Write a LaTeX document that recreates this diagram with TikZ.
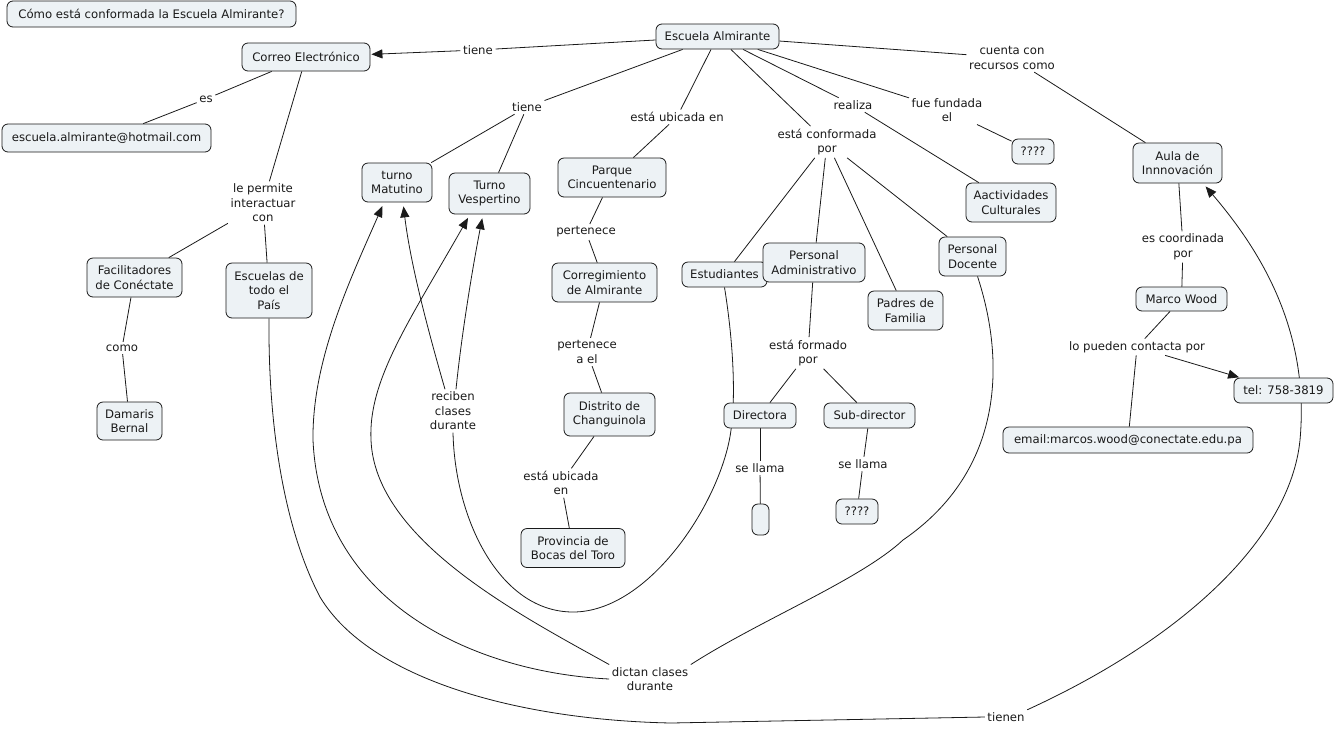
\documentclass[tikz,border=0pt]{standalone}
\usepackage{fontspec}
\setmainfont{DejaVu Sans}
\usetikzlibrary{arrows.meta}
\definecolor{nodefill}{HTML}{EDF2F5}
\definecolor{ink}{HTML}{1A1A1A}
\newcommand{\cmfont}{\fontsize{11.7pt}{14.5pt}\selectfont}
\pgfdeclarelayer{bg}
\pgfsetlayers{bg,main}
\begin{document}
\begin{tikzpicture}[x=1pt,y=-1pt,
  concept/.style={draw=ink, line width=0.8pt, fill=nodefill, rounded corners=6pt, align=center, inner sep=1pt, font=\cmfont, text=ink},
  link/.style={align=center, inner sep=2.5pt, font=\cmfont, text=ink},
  conn/.style={line width=0.8pt, draw=ink},
  arr/.style={conn, -{Triangle[length=11pt,width=9pt]}, shorten >=1pt},
]
\useasboundingbox (0,0) rectangle (1335,729);
\begin{pgfonlayer}{bg}
\fill[white] (0,0) rectangle (1335,729);
\end{pgfonlayer}

% concepts
\node[concept, minimum width=289pt, minimum height=26pt] (title) at (151.5,14) {Cómo está conformada la Escuela Almirante?};
\node[concept, minimum width=123pt, minimum height=25pt] (escuela) at (717.5,36.5) {Escuela Almirante};
\node[concept, minimum width=128pt, minimum height=28pt] (correo) at (306,57) {Correo Electrónico};
\node[concept, minimum width=209pt, minimum height=28pt] (hotmail) at (106.5,138) {escuela.almirante@hotmail.com};
\node[concept, minimum width=70pt, minimum height=39pt] (matutino) at (397,182.5) {turno\\Matutino};
\node[concept, minimum width=81pt, minimum height=41pt] (vespertino) at (489.5,193.5) {Turno\\Vespertino};
\node[concept, minimum width=108pt, minimum height=39pt] (parque) at (612,177.5) {Parque\\Cincuentenario};
\node[concept, minimum width=105pt, minimum height=39pt] (corregimiento) at (604.5,282.5) {Corregimiento\\de Almirante};
\node[concept, minimum width=91pt, minimum height=43pt] (distrito) at (609.5,414.5) {Distrito de\\Changuinola};
\node[concept, minimum width=104pt, minimum height=39pt] (provincia) at (573,548) {Provincia de\\Bocas del Toro};
\node[concept, minimum width=85pt, minimum height=25pt] (estudiantes) at (724.5,274.5) {Estudiantes};
\node[concept, minimum width=102pt, minimum height=39pt] (admin) at (814,262.5) {Personal\\Administrativo};
\node[concept, minimum width=75pt, minimum height=39pt] (padres) at (905.5,310.5) {Padres de\\Familia};
\node[concept, minimum width=67pt, minimum height=39pt] (docente) at (972.5,256.5) {Personal\\Docente};
\node[concept, minimum width=90pt, minimum height=39pt] (actividades) at (1011,202.5) {Aactividades\\Culturales};
\node[concept, minimum width=42pt, minimum height=25pt] (fecha) at (1033,151.5) {????};
\node[concept, minimum width=89pt, minimum height=40pt] (aula) at (1177.5,163) {Aula de\\Innnovación};
\node[concept, minimum width=91pt, minimum height=24pt] (marco) at (1181.5,299) {Marco Wood};
\node[concept, minimum width=99pt, minimum height=25pt] (tel) at (1283.5,390.5) {tel: 758-3819};
\node[concept, minimum width=250pt, minimum height=26pt] (marcosmail) at (1128,440) {email:marcos.wood@conectate.edu.pa};
\node[concept, minimum width=72pt, minimum height=25pt] (directora) at (760,415.5) {Directora};
\node[concept, minimum width=91pt, minimum height=25pt] (subdirector) at (869.5,415.5) {Sub-director};
\node[concept, minimum width=17pt, minimum height=31pt] (vacio) at (760.5,519.5) {};
\node[concept, minimum width=42pt, minimum height=25pt] (subnombre) at (857,511.5) {????};
\node[concept, minimum width=95pt, minimum height=39pt] (facilitadores) at (134.5,277.5) {Facilitadores\\de Conéctate};
\node[concept, minimum width=86pt, minimum height=55pt] (escuelas) at (269,290.5) {Escuelas de\\todo el\\País};
\node[concept, minimum width=65pt, minimum height=38pt] (damaris) at (129.5,421) {Damaris\\Bernal};

% linking phrases
\node[link] (tiene1) at (478,50) {tiene};
\node[link] (es) at (206,99) {es};
\node[link] (permite) at (263,203) {le permite\\interactuar\\con};
\node[link] (como) at (122,348) {como};
\node[link] (tiene2) at (527,107) {tiene};
\node[link] (ubicada) at (677,117) {está ubicada en};
\node[link] (pertenece) at (586,232) {pertenece};
\node[link] (perteneceael) at (587,352) {pertenece\\a el};
\node[link] (ubicada2) at (561,483) {está ubicada\\en};
\node[link] (conformada) at (827,142) {está conformada\\por};
\node[link] (realiza) at (853,105) {realiza};
\node[link] (fundada) at (947,110) {fue fundada\\el};
\node[link] (cuenta) at (1012,58) {cuenta con\\recursos como};
\node[link] (coordinada) at (1183,247) {es coordinada\\por};
\node[link] (contacta) at (1137,347) {lo pueden contacta por};
\node[link] (formado) at (808,353) {está formado\\por};
\node[link] (llama1) at (760,468) {se llama};
\node[link] (llama2) at (863,464) {se llama};
\node[link] (reciben) at (453,411) {reciben\\clases\\durante};
\node[link] (dictan) at (650,679) {dictan clases\\durante};
\node[link] (tienen) at (1006,717) {tienen};

\begin{pgfonlayer}{bg}
% straight connectors
\draw[conn] (escuela) -- (tiene1);
\draw[arr] (tiene1) -- (correo);
\draw[conn] (correo) -- (es);
\draw[conn] (es) -- (hotmail);
\draw[conn] (correo) -- (permite);
\draw[conn] (permite) -- (facilitadores);
\draw[conn] (permite) -- (escuelas);
\draw[conn] (facilitadores) -- (como);
\draw[conn] (como) -- (damaris);
\draw[conn] (escuela) -- (tiene2);
\draw[conn] (tiene2) -- (matutino);
\draw[conn] (tiene2) -- (vespertino);
\draw[conn] (escuela) -- (ubicada);
\draw[conn] (ubicada) -- (parque);
\draw[conn] (parque) -- (pertenece);
\draw[conn] (pertenece) -- (corregimiento);
\draw[conn] (corregimiento) -- (perteneceael);
\draw[conn] (perteneceael) -- (distrito);
\draw[conn] (distrito) -- (ubicada2);
\draw[conn] (ubicada2) -- (provincia);
\draw[conn] (escuela) -- (conformada);
\draw[conn] (conformada) -- (estudiantes);
\draw[conn] (conformada) -- (admin);
\draw[conn] (conformada) -- (padres);
\draw[conn] (conformada) -- (docente);
\draw[conn] (escuela) -- (realiza);
\draw[conn] (realiza) -- (actividades);
\draw[conn] (escuela) -- (fundada);
\draw[conn] (fundada) -- (fecha);
\draw[conn] (escuela) -- (cuenta);
\draw[conn] (cuenta) -- (aula);
\draw[conn] (aula) -- (coordinada);
\draw[conn] (coordinada) -- (marco);
\draw[conn] (marco) -- (contacta);
\draw[arr] (contacta) -- (tel);
\draw[conn] (contacta) -- (marcosmail);
\draw[conn] (admin) -- (formado);
\draw[conn] (formado) -- (directora);
\draw[conn] (formado) -- (subdirector);
\draw[conn] (directora) -- (llama1);
\draw[conn] (llama1) -- (vacio);
\draw[conn] (subdirector) -- (llama2);
\draw[conn] (llama2) -- (subnombre);

% curved connectors
\draw[conn] (estudiantes.south) .. controls (733,340) and (736,395) .. (731,430)
  .. controls (722,500) and (650,612) .. (573,612)
  .. controls (500,612) and (455,520) .. (reciben.south);
\draw[arr, shorten >=4pt] ([xshift=-8pt]reciben.north) .. controls (425,320) and (410,260) .. ([xshift=6pt]matutino.south);
\draw[arr, shorten >=4pt] ([xshift=3pt]reciben.north) .. controls (462,330) and (474,260) .. ([xshift=-6.5pt]vespertino.south);

\draw[conn] ([xshift=5pt]docente.south) .. controls (1005,360) and (1005,470) .. (903,540)
  .. controls (860,580) and (760,620) .. (dictan.north east);
\draw[arr, shorten >=4pt] (dictan.west) .. controls (470,672) and (320,600) .. (313,440)
  .. controls (312,360) and (350,280) .. ([xshift=-13pt]matutino.south);
\draw[arr, shorten >=4pt] (dictan.north west) .. controls (520,615) and (375,540) .. (371,440)
  .. controls (368,380) and (410,320) .. ([xshift=-19.5pt]vespertino.south);

\draw[conn] (escuelas.south) .. controls (268,430) and (285,530) .. (320,597)
  .. controls (370,680) and (520,720) .. (671,723) -- (tienen.west);
\draw[arr, shorten >=4pt] (tienen.north east) .. controls (1180,640) and (1290,540) .. (1300,440)
  .. controls (1310,330) and (1260,250) .. ([xshift=25.5pt]aula.south);
\end{pgfonlayer}
\end{tikzpicture}
\end{document}
